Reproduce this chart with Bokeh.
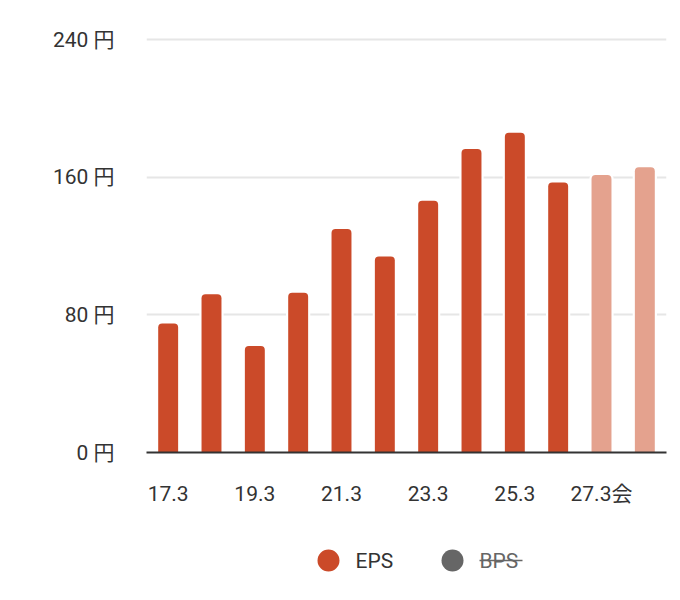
from bokeh.plotting import figure
from bokeh.models import FixedTicker, ColumnDataSource, Range1d
from bokeh.layouts import column
from bokeh.embed import file_html
from bokeh.resources import INLINE
from bokeh.core.properties import value

# ---- data ----
periods = ["17.3", "18.3", "19.3", "20.3", "21.3", "22.3", "23.3", "24.3", "25.3", "26.3", "27.3会", "28.3会"]
eps = [75, 92, 62, 93, 130, 114, 146.5, 176.5, 186, 157, 161.5, 166]
is_forecast = [False] * 10 + [True, True]
y_ticks = [0, 80, 160, 240]
y_unit = "円"
legend_labels = ["EPS", "BPS"]

ACTUAL = "#CB4A29"
FORECAST = "#E4A28E"
TEXT = "#333333"
GREY = "#666666"
FONT = "Roboto, 'Noto Sans CJK JP'"
FS = "21px"

idx = list(range(len(periods)))
src = ColumnDataSource(dict(
    x=idx, top=eps,
    color=[FORECAST if f else ACTUAL for f in is_forecast],
))

p = figure(width=672, height=510, output_backend="svg", toolbar_location=None,
           x_range=Range1d(-0.5, len(periods) - 0.5), y_range=Range1d(0, 242),
           min_border_left=146, min_border_right=6, min_border_top=36, min_border_bottom=58)
p.outline_line_color = None
p.background_fill_color = "white"
p.border_fill_color = "white"

# white halo behind bars (breaks the grid lines next to each bar)
p.vbar(x="x", top="top", bottom=0, width=0.56, source=src, fill_color="white",
       line_color=None, border_radius=(4, 4, 0, 0))
p.vbar(x="x", top="top", bottom=0, width=0.46, source=src, fill_color="color",
       line_color=None, border_radius=(4, 4, 0, 0))

# y axis
p.yaxis.ticker = FixedTicker(ticks=y_ticks)
p.yaxis.major_label_overrides = {t: f"{t} {y_unit}" for t in y_ticks}
p.yaxis.axis_line_color = None
p.yaxis.major_tick_line_color = None
p.yaxis.minor_tick_line_color = None
p.yaxis.major_label_standoff = 26
p.yaxis.major_label_text_font = FONT
p.yaxis.major_label_text_font_size = FS
p.yaxis.major_label_text_color = TEXT

# x axis
p.xaxis.ticker = FixedTicker(ticks=idx[::2])
p.xaxis.major_label_overrides = {i: periods[i] for i in idx}
p.xaxis.axis_line_color = TEXT
p.xaxis.axis_line_width = 2
p.xaxis.major_tick_line_color = None
p.xaxis.minor_tick_line_color = None
p.xaxis.major_label_standoff = 23
p.xaxis.major_label_text_font = FONT
p.xaxis.major_label_text_font_size = FS
p.xaxis.major_label_text_color = TEXT

p.xgrid.grid_line_color = None
p.ygrid.ticker = FixedTicker(ticks=y_ticks)
p.ygrid.grid_line_color = "#e6e6e6"
p.ygrid.grid_line_width = 2

# ---- legend (separate strip, x in page pixels of the aligned frame) ----
lg = figure(width=672, height=80, output_backend="svg", toolbar_location=None,
            x_range=Range1d(146, 666), y_range=Range1d(0, 80),
            min_border_left=146, min_border_right=6, min_border_top=0, min_border_bottom=0)
lg.outline_line_color = None
lg.axis.visible = False
lg.grid.visible = False
lg.scatter(x=[328, 452], y=[30, 30], size=22, marker="circle",
           fill_color=[ACTUAL, GREY], line_color=None)
lg.text(x=[355, 479], y=[30, 30], text=legend_labels, text_baseline="middle",
        text_font=value(FONT), text_font_size=FS, text_color=[TEXT, GREY])
lg.segment(x0=[479], y0=[30], x1=[522], y1=[30], line_color=GREY, line_width=1.5)

layout = column(p, lg, spacing=0)
open("out.html", "w").write(file_html(layout, INLINE))
